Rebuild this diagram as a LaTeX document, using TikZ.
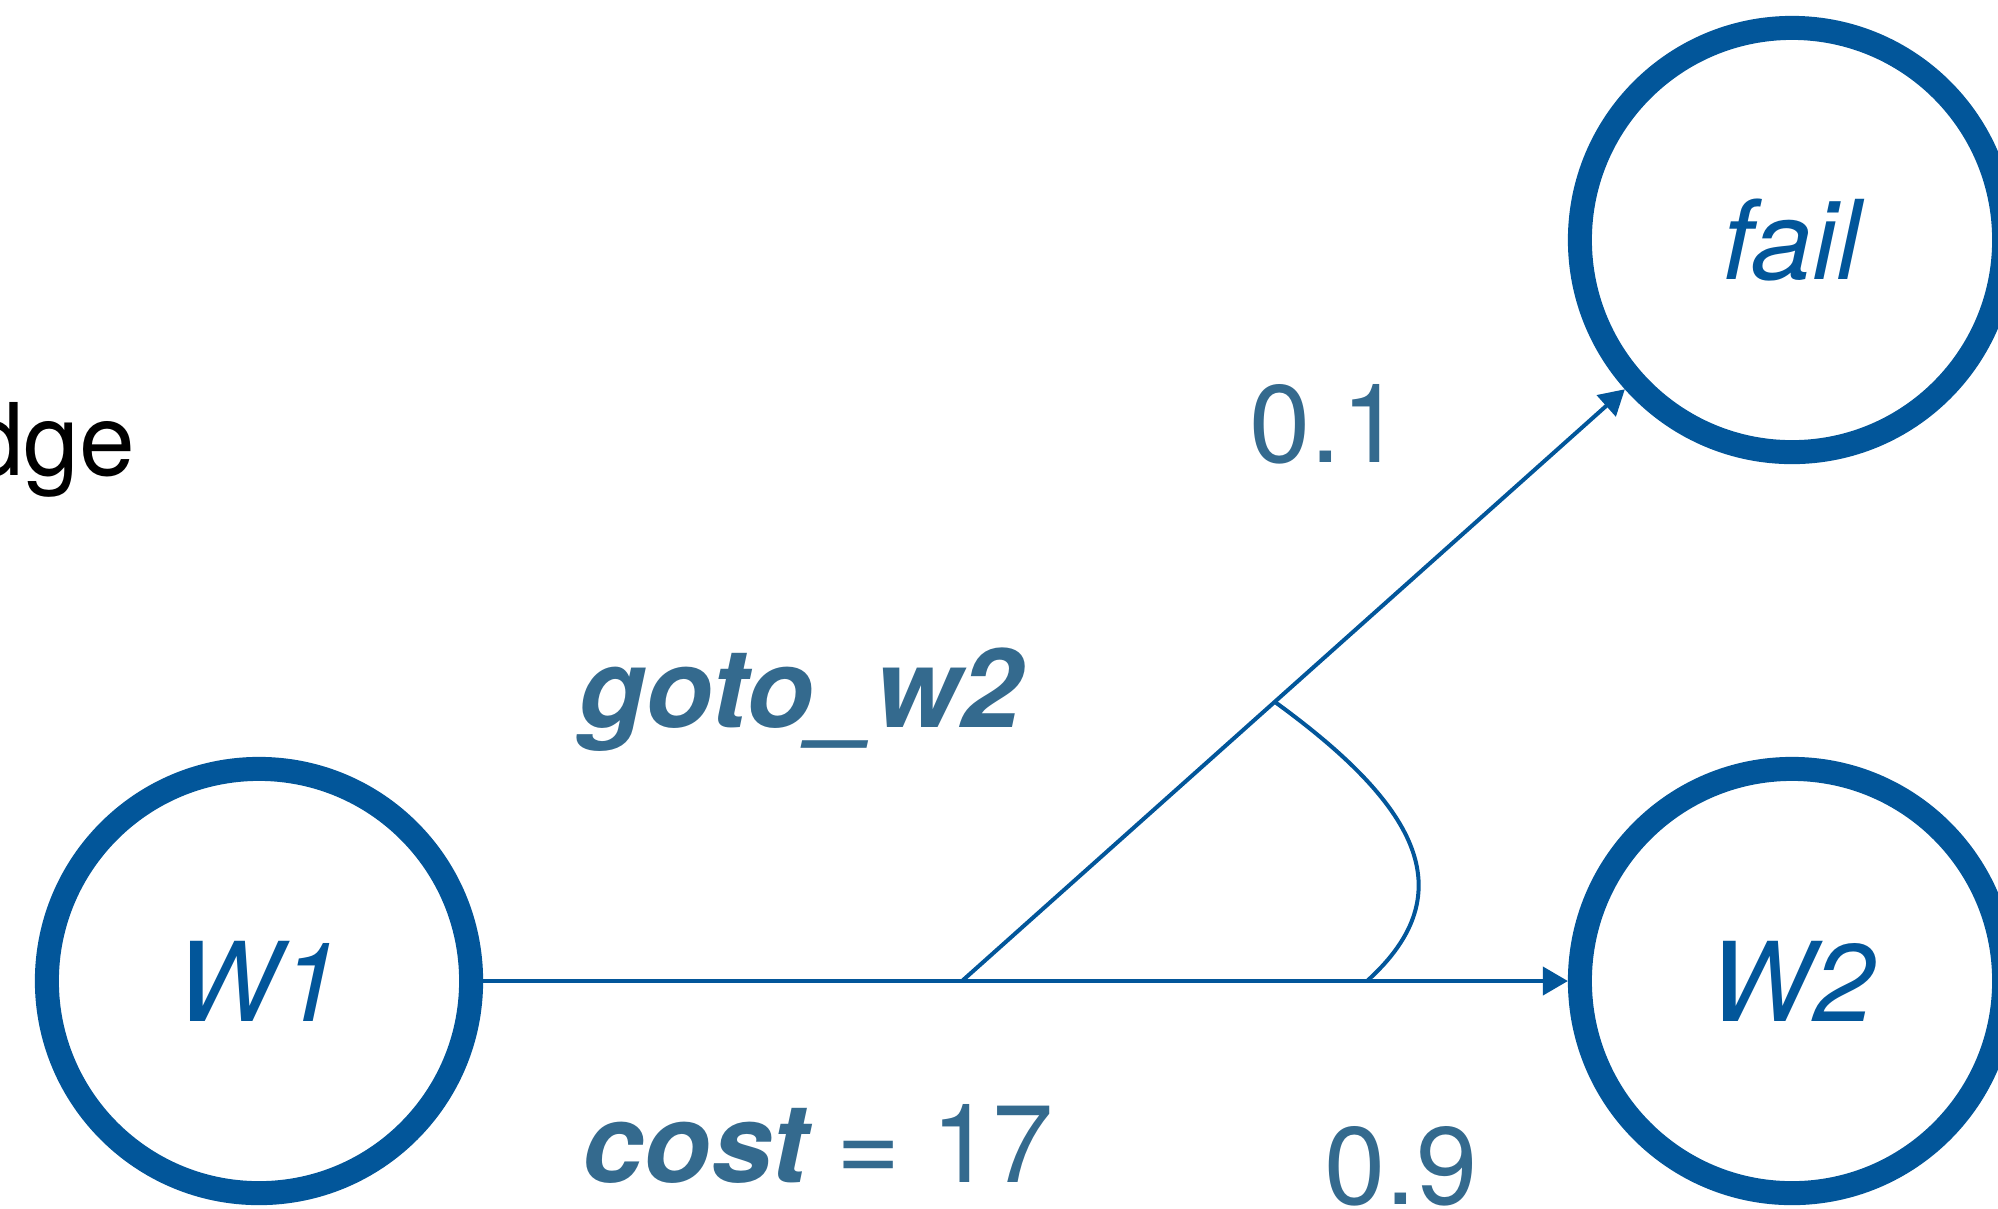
\documentclass[tikz,border=0pt]{standalone}
\usepackage{fontspec}
\setmainfont{TeX Gyre Heros}
\usetikzlibrary{arrows.meta}
\definecolor{nodeblue}{HTML}{02569A}
\definecolor{labelblue}{HTML}{346A8E}
\begin{document}
\begin{tikzpicture}[x=0.01cm,y=-0.01cm,
  state/.style={circle, draw=nodeblue, line width=0.24cm, minimum size=4.24cm, inner sep=0pt,
    text=nodeblue, font=\fontsize{31.3}{36}\selectfont\itshape},
  conn/.style={draw=nodeblue, line width=0.04cm},
  arr/.style={-{Triangle[length=0.25cm,width=0.28cm]}},
  lbl/.style={text=labelblue, inner sep=0pt, font=\fontsize{31.3}{36}\selectfont},
  boldlbl/.style={lbl, font=\fontsize{31.3}{36}\selectfont\bfseries\itshape},
  side/.style={text=black, inner sep=0pt, font=\fontsize{28.5}{34}\selectfont}]
\useasboundingbox (0,0) rectangle (1998,1208);
% states
\node[state] (w1) at (259,981) {W1};
\node[state] (w2) at (1792,981) {W2};
\node[state] (fail) at (1792,240) {fail};
% connector points
\coordinate (split) at (962,981);
\coordinate (branch) at (1275,702);
\coordinate (join) at (1367,981);
% connectors
\draw[conn, arr] (w1) -- (w2);
\draw[conn, arr] (split) -- (fail);
\draw[conn] (branch) .. controls (1414,803) and (1467,891) .. (join);
% labels
\node[boldlbl, anchor=base] (action) at (800,727) {goto\_w2};
\node[lbl, anchor=base] (pfail) at (1326,462) {0.1};
\node[lbl, anchor=base] (psucc) at (1401,1204) {0.9};
\node[lbl, anchor=base west] (cost) at (582,1182) {\textbf{\textit{cost}}\kern-0.06em{} = 17};
\node[side, anchor=base east] (edge) at (136,475) {dge};
\end{tikzpicture}
\end{document}
